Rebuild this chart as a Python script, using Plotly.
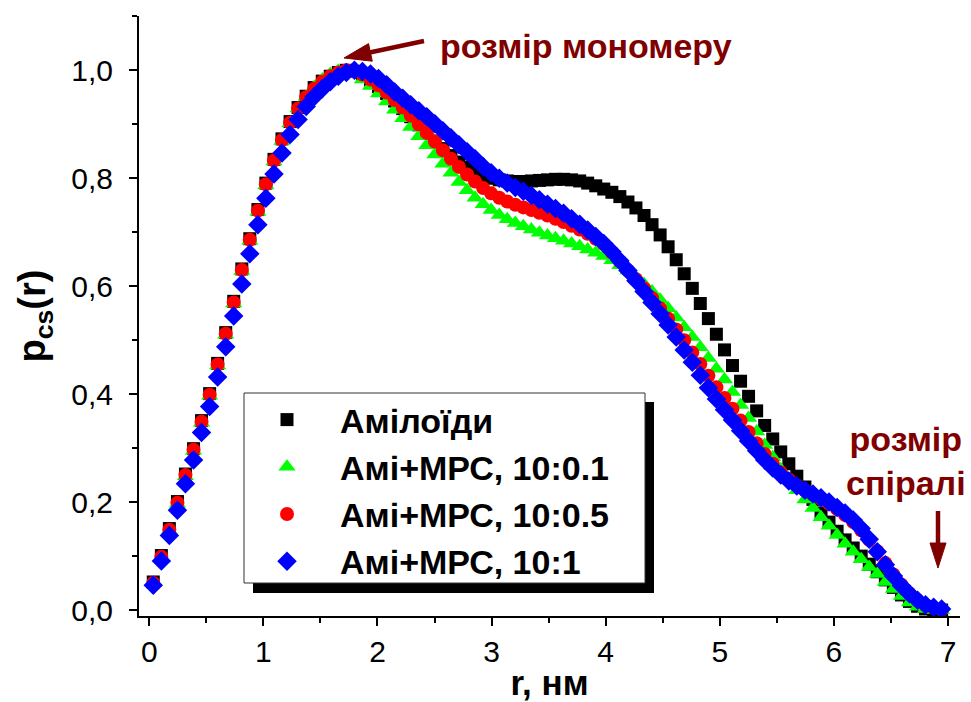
import math
import plotly.graph_objects as go

# Radial grid, nm
r_nm = [0.035, 0.106, 0.176, 0.247, 0.317, 0.388, 0.458, 0.529, 0.599, 0.670,
        0.740, 0.811, 0.881, 0.952, 1.022, 1.093, 1.163, 1.234, 1.304, 1.375,
        1.445, 1.516, 1.586, 1.657, 1.727, 1.798, 1.868, 1.939, 2.009, 2.080,
        2.150, 2.221, 2.291, 2.362, 2.432, 2.503, 2.573, 2.644, 2.714, 2.785,
        2.855, 2.926, 2.996, 3.067, 3.137, 3.208, 3.278, 3.349, 3.419, 3.490,
        3.560, 3.631, 3.701, 3.772, 3.842, 3.913, 3.983, 4.054, 4.124, 4.195,
        4.265, 4.336, 4.406, 4.477, 4.547, 4.618, 4.688, 4.759, 4.829, 4.900,
        4.970, 5.041, 5.111, 5.182, 5.252, 5.323, 5.393, 5.464, 5.534, 5.605,
        5.675, 5.746, 5.816, 5.887, 5.957, 6.028, 6.098, 6.169, 6.239, 6.310,
        6.380, 6.451, 6.521, 6.592, 6.662, 6.733, 6.803, 6.874, 6.944]

# Normalised cross-section distance distribution p_cs(r)
amyloid = [0.052, 0.101, 0.151, 0.201, 0.252, 0.299, 0.351, 0.401, 0.457, 0.514,
           0.572, 0.632, 0.688, 0.742, 0.791, 0.835, 0.873, 0.905, 0.931, 0.952,
           0.968, 0.980, 0.989, 0.996, 1.000, 0.998, 0.992, 0.982, 0.970, 0.957,
           0.943, 0.929, 0.914, 0.899, 0.884, 0.869, 0.855, 0.842, 0.830, 0.820,
           0.812, 0.805, 0.800, 0.797, 0.795, 0.794, 0.794, 0.795, 0.796, 0.797,
           0.798, 0.798, 0.797, 0.795, 0.791, 0.786, 0.780, 0.774, 0.766, 0.756,
           0.745, 0.731, 0.714, 0.695, 0.673, 0.649, 0.623, 0.596, 0.568, 0.540,
           0.511, 0.482, 0.453, 0.424, 0.396, 0.369, 0.342, 0.317, 0.293, 0.271,
           0.248, 0.228, 0.205, 0.180, 0.163, 0.146, 0.130, 0.115, 0.100, 0.085,
           0.071, 0.056, 0.042, 0.028, 0.016, 0.007, 0.002, 0.000, 0.000]

mpc_10_01 = [0.050, 0.098, 0.148, 0.197, 0.248, 0.295, 0.347, 0.397, 0.453, 0.510,
             0.568, 0.628, 0.684, 0.738, 0.787, 0.831, 0.869, 0.902, 0.929, 0.951,
             0.969, 0.983, 0.993, 0.999, 0.999, 0.993, 0.983, 0.971, 0.957, 0.942,
             0.927, 0.911, 0.895, 0.878, 0.861, 0.844, 0.827, 0.810, 0.793, 0.778,
             0.764, 0.752, 0.741, 0.732, 0.724, 0.717, 0.711, 0.705, 0.699, 0.694,
             0.689, 0.684, 0.679, 0.674, 0.668, 0.662, 0.656, 0.648, 0.639, 0.629,
             0.617, 0.604, 0.590, 0.575, 0.559, 0.542, 0.524, 0.506, 0.487, 0.467,
             0.447, 0.427, 0.404, 0.380, 0.356, 0.331, 0.306, 0.283, 0.261, 0.241,
             0.222, 0.205, 0.189, 0.172, 0.156, 0.139, 0.123, 0.108, 0.094, 0.080,
             0.067, 0.052, 0.039, 0.026, 0.014, 0.006, 0.002, 0.000, 0.000]

mpc_10_05 = [0.050, 0.099, 0.149, 0.199, 0.250, 0.297, 0.349, 0.399, 0.455, 0.512,
             0.570, 0.630, 0.686, 0.740, 0.789, 0.833, 0.871, 0.903, 0.929, 0.950,
             0.966, 0.979, 0.989, 0.996, 1.000, 0.998, 0.992, 0.983, 0.972, 0.959,
             0.945, 0.931, 0.916, 0.900, 0.884, 0.868, 0.852, 0.836, 0.821, 0.807,
             0.794, 0.782, 0.772, 0.764, 0.757, 0.751, 0.746, 0.741, 0.736, 0.731,
             0.725, 0.719, 0.712, 0.705, 0.697, 0.688, 0.678, 0.663, 0.646, 0.629,
             0.613, 0.596, 0.578, 0.559, 0.540, 0.520, 0.500, 0.477, 0.456, 0.434,
             0.413, 0.393, 0.373, 0.351, 0.330, 0.309, 0.289, 0.271, 0.255, 0.242,
             0.231, 0.222, 0.214, 0.206, 0.197, 0.187, 0.176, 0.163, 0.148, 0.130,
             0.109, 0.087, 0.066, 0.047, 0.031, 0.018, 0.009, 0.004, 0.001]

mpc_10_1 = [0.046, 0.091, 0.138, 0.185, 0.234, 0.278, 0.329, 0.377, 0.432, 0.488,
            0.545, 0.604, 0.660, 0.714, 0.763, 0.808, 0.847, 0.881, 0.909, 0.933,
            0.951, 0.966, 0.979, 0.989, 0.996, 1.000, 0.998, 0.993, 0.985, 0.973,
            0.960, 0.948, 0.936, 0.925, 0.914, 0.901, 0.888, 0.875, 0.862, 0.849,
            0.836, 0.822, 0.810, 0.800, 0.791, 0.783, 0.776, 0.768, 0.760, 0.752,
            0.744, 0.735, 0.725, 0.715, 0.704, 0.692, 0.679, 0.664, 0.647, 0.629,
            0.610, 0.590, 0.570, 0.549, 0.528, 0.506, 0.482, 0.459, 0.435, 0.412,
            0.391, 0.371, 0.352, 0.332, 0.313, 0.295, 0.278, 0.263, 0.250, 0.239,
            0.230, 0.222, 0.215, 0.208, 0.200, 0.190, 0.180, 0.167, 0.151, 0.131,
            0.108, 0.084, 0.063, 0.045, 0.030, 0.018, 0.010, 0.005, 0.002]

series_names = ["Амілоїди", "Амі+МРС, 10:0.1", "Амі+МРС, 10:0.5", "Амі+МРС, 10:1"]
series_values = [amyloid, mpc_10_01, mpc_10_05, mpc_10_1]
series_symbols = ["square", "triangle-up", "circle", "diamond"]
series_colors = ["#000000", "#00FF00", "#FF0000", "#0000FF"]
series_sizes = [13, 15, 14, 15]

FONT = "Arial, 'Liberation Sans', sans-serif"
MAROON = "#800000"

# Figure geometry (pixels)
W, H = 971, 702
ML, MR, MT, MB = 139, 11, 16, 86
X_RANGE = [-0.09, 7.105]
Y_RANGE = [-0.011, 1.1006]
PW, PH = W - ML - MR, H - MT - MB


def px_to_x(px):
    return X_RANGE[0] + (px - ML) / PW * (X_RANGE[1] - X_RANGE[0])


def py_to_y(py):
    return Y_RANGE[1] - (py - MT) / PH * (Y_RANGE[1] - Y_RANGE[0])


def paper_x(px):
    return (px - ML) / PW


def paper_y(py):
    return (H - MB - py) / PH


def arrow_shapes(tail, tip, width, head_len, head_half):
    """Straight arrow from tail to tip (pixel points) as a line plus a filled head."""
    dx, dy = tip[0] - tail[0], tip[1] - tail[1]
    L = math.hypot(dx, dy)
    ux, uy = dx / L, dy / L
    nx, ny = -uy, ux
    bx, by = tip[0] - ux * head_len, tip[1] - uy * head_len
    lx, ly = bx + ux * 2, by + uy * 2
    line = dict(type="line", xref="x", yref="y",
                x0=px_to_x(tail[0]), y0=py_to_y(tail[1]),
                x1=px_to_x(lx), y1=py_to_y(ly),
                line=dict(color=MAROON, width=width), layer="above")
    pts = [(tip[0], tip[1]),
           (bx + nx * head_half, by + ny * head_half),
           (bx - nx * head_half, by - ny * head_half)]
    path = "M " + " L ".join(f"{px_to_x(p[0]):.4f},{py_to_y(p[1]):.4f}" for p in pts) + " Z"
    head = dict(type="path", xref="x", yref="y", path=path,
                fillcolor=MAROON, line=dict(color=MAROON, width=1), layer="above")
    return [line, head]


fig = go.Figure()
for name, vals, sym, col, sz in zip(series_names, series_values, series_symbols,
                                    series_colors, series_sizes):
    fig.add_trace(go.Scatter(
        x=r_nm, y=vals, mode="markers", name=name, legendgroup=name,
        marker=dict(symbol=sym, color=col, size=sz, line=dict(width=0)),
    ))

axis_common = dict(
    showgrid=False, zeroline=False, showline=True, linecolor="black", linewidth=2,
    ticks="outside", ticklen=8, tickwidth=2, tickcolor="black",
    tickfont=dict(family=FONT, size=30, color="black"),
    mirror=False,
)

fig.update_xaxes(range=X_RANGE, tick0=0, dtick=1,
                 title=dict(text="<b>r, нм</b>", standoff=4,
                            font=dict(family=FONT, size=35, color="black")),
                 minor=dict(dtick=0.5, ticks="outside", ticklen=5, tickwidth=2,
                            tickcolor="black"),
                 **axis_common)
fig.update_yaxes(range=Y_RANGE, tick0=0, dtick=0.2, tickformat=".1f",
                 ticklabelstandoff=10,
                 title=dict(text="<b>p<sub>cs</sub>(r)</b>", standoff=14,
                            font=dict(family=FONT, size=38, color="black")),
                 minor=dict(dtick=0.1, ticks="outside", ticklen=5, tickwidth=2,
                            tickcolor="black"),
                 **axis_common)

shapes = [
    # legend frame with drop shadow
    dict(type="rect", xref="paper", yref="paper",
         x0=paper_x(253), x1=paper_x(654), y0=paper_y(593), y1=paper_y(402),
         fillcolor="black", line=dict(width=0), layer="above"),
    dict(type="rect", xref="paper", yref="paper",
         x0=paper_x(244), x1=paper_x(645), y0=paper_y(583), y1=paper_y(393),
         fillcolor="white", line=dict(color="#333333", width=1), layer="above"),
]
shapes += arrow_shapes((424, 41), (344, 58), 4.5, 27, 9)
shapes += arrow_shapes((938, 511), (938, 568), 4.5, 25, 8)

annotations = [
    dict(text="<b>розмір мономеру</b>", xref="paper", yref="paper",
         x=paper_x(586), y=paper_y(46),
         xanchor="center", yanchor="middle", showarrow=False,
         font=dict(family=FONT, size=34, color=MAROON)),
    dict(text="<b>розмір<br>спіралі</b>", xref="paper", yref="paper",
         x=paper_x(906), y=paper_y(461), align="center",
         xanchor="center", yanchor="middle", showarrow=False,
         font=dict(family=FONT, size=34, color=MAROON)),
]

fig.update_layout(
    width=W, height=H,
    margin=dict(l=ML, r=MR, t=MT, b=MB, autoexpand=False),
    paper_bgcolor="white", plot_bgcolor="white",
    separators=", ",
    font=dict(family=FONT, color="black"),
    showlegend=True,
    legend=dict(
        x=paper_x(234), y=paper_y(391),
        xanchor="left", yanchor="top",
        bgcolor="rgba(0,0,0,0)", borderwidth=0,
        font=dict(family=FONT, size=34, color="black", weight="bold"),
        itemwidth=96, tracegroupgap=0, itemsizing="trace",
    ),
    shapes=shapes,
    annotations=annotations,
)

fig.write_html("out.html")
